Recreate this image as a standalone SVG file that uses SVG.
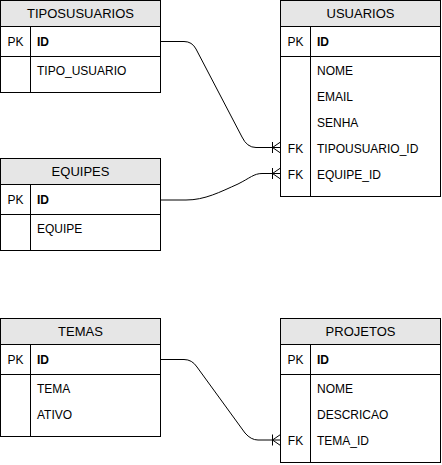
<svg xmlns="http://www.w3.org/2000/svg" width="442" height="465" viewBox="0 0 442 465">
<style>
.box{fill:#ffffff;stroke:#000000;stroke-width:1}
.hdr{fill:#e6e6e6;stroke:#000000;stroke-width:1}
.ln{stroke:#000000;stroke-width:1;fill:none}
.ht{font-family:"Liberation Sans",Arial,sans-serif;font-size:13px;fill:#000000;text-anchor:middle}
.t{font-family:"Liberation Sans",Arial,sans-serif;font-size:12px;fill:#000000}
.k{font-family:"Liberation Sans",Arial,sans-serif;font-size:12px;fill:#000000;text-anchor:middle}
.b{font-weight:bold}
.edge{stroke:#000000;stroke-width:1;fill:none}
</style>
<defs>
<marker id="many" markerWidth="12" markerHeight="14" refX="10" refY="7" orient="auto" markerUnits="userSpaceOnUse">
<path d="M2,1.5 V12.5 M2,7 L10,1.5 M2,7 L10,12.5" stroke="#000" stroke-width="1" fill="none"/>
</marker>
</defs>
<g id="connectors">
<path class="edge" d="M160.5,41.5 H184 Q192,41.5 196,49 L242,137 Q247,147.5 256,147.5 H280.5" marker-end="url(#many)"/>
<path class="edge" d="M160.5,200 H186 C205,200 220,192 238,184 C250,178 254,173.5 262,173.5 H280.5" marker-end="url(#many)"/>
<path class="edge" d="M160.5,359.5 H184 Q192,359.5 197,367 L245,433 Q251,440 258,440 H280.5" marker-end="url(#many)"/>
</g>
<g id="tiposusuarios">
<rect class="box" x="0.5" y="0.5" width="160" height="92"/>
<rect class="hdr" x="0.5" y="0.5" width="160" height="26"/>
<line class="ln" x1="0.5" y1="56.5" x2="160.5" y2="56.5"/>
<line class="ln" x1="30.5" y1="26.5" x2="30.5" y2="92.5"/>
<text class="ht" x="80.5" y="18">TIPOSUSUARIOS</text>
<text class="k" x="15.5" y="45.5">PK</text>
<text class="t b" x="37" y="45.5">ID</text>
<text class="t" x="37" y="75">TIPO_USUARIO</text>
</g>
<g id="usuarios">
<rect class="box" x="280.5" y="0.5" width="160" height="196"/>
<rect class="hdr" x="280.5" y="0.5" width="160" height="26"/>
<line class="ln" x1="280.5" y1="56.5" x2="440.5" y2="56.5"/>
<line class="ln" x1="310.5" y1="26.5" x2="310.5" y2="196.5"/>
<text class="ht" x="360.5" y="18">USUARIOS</text>
<text class="k" x="295.5" y="45.5">PK</text>
<text class="t b" x="317" y="45.5">ID</text>
<text class="t" x="317" y="75">NOME</text>
<text class="t" x="317" y="101">EMAIL</text>
<text class="t" x="317" y="127">SENHA</text>
<text class="k" x="295.5" y="152.5">FK</text>
<text class="t" x="317" y="152.5">TIPOUSUARIO_ID</text>
<text class="k" x="295.5" y="178.5">FK</text>
<text class="t" x="317" y="178.5">EQUIPE_ID</text>
</g>
<g id="equipes">
<rect class="box" x="0.5" y="158.5" width="160" height="92"/>
<rect class="hdr" x="0.5" y="158.5" width="160" height="26"/>
<line class="ln" x1="0.5" y1="214.5" x2="160.5" y2="214.5"/>
<line class="ln" x1="30.5" y1="184.5" x2="30.5" y2="250.5"/>
<text class="ht" x="80.5" y="176">EQUIPES</text>
<text class="k" x="15.5" y="203.5">PK</text>
<text class="t b" x="37" y="203.5">ID</text>
<text class="t" x="37" y="233">EQUIPE</text>
</g>
<g id="temas">
<rect class="box" x="0.5" y="318.5" width="160" height="118"/>
<rect class="hdr" x="0.5" y="318.5" width="160" height="26"/>
<line class="ln" x1="0.5" y1="374.5" x2="160.5" y2="374.5"/>
<line class="ln" x1="30.5" y1="344.5" x2="30.5" y2="436.5"/>
<text class="ht" x="80.5" y="336">TEMAS</text>
<text class="k" x="15.5" y="363.5">PK</text>
<text class="t b" x="37" y="363.5">ID</text>
<text class="t" x="37" y="393">TEMA</text>
<text class="t" x="37" y="419">ATIVO</text>
</g>
<g id="projetos">
<rect class="box" x="280.5" y="318.5" width="160" height="144"/>
<rect class="hdr" x="280.5" y="318.5" width="160" height="26"/>
<line class="ln" x1="280.5" y1="374.5" x2="440.5" y2="374.5"/>
<line class="ln" x1="310.5" y1="344.5" x2="310.5" y2="462.5"/>
<text class="ht" x="360.5" y="336">PROJETOS</text>
<text class="k" x="295.5" y="363.5">PK</text>
<text class="t b" x="317" y="363.5">ID</text>
<text class="t" x="317" y="393">NOME</text>
<text class="t" x="317" y="419">DESCRICAO</text>
<text class="k" x="295.5" y="445">FK</text>
<text class="t" x="317" y="445">TEMA_ID</text>
</g>
</svg>
